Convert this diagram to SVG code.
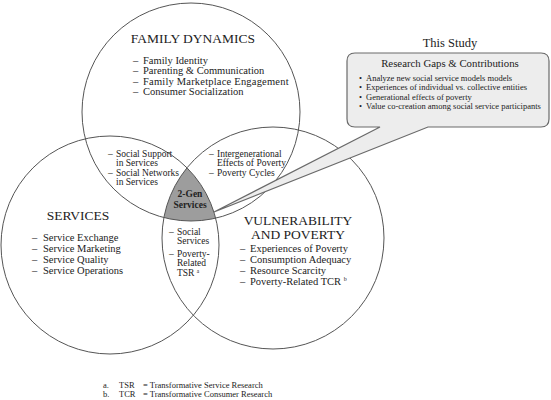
<svg xmlns="http://www.w3.org/2000/svg" width="551" height="400" viewBox="0 0 551 400">
<style>
text{font-family:"Liberation Serif","Times New Roman",serif;fill:#222}
.hd{font-size:13.5px}
.it{font-size:10.5px}
.ln{font-size:9.5px}
.cb{font-size:8.5px}
.fn{font-size:8.5px}
.circ{fill:none;stroke:#555;stroke-width:1}
</style>
<defs>
<clipPath id="clipL"><circle cx="110" cy="245" r="109"/></clipPath>
<clipPath id="clipT"><circle cx="191" cy="112" r="109"/></clipPath>
</defs>
<rect width="551" height="400" fill="#fff"/>

<g id="two-gen">
<g clip-path="url(#clipT)"><circle cx="273" cy="238" r="111" fill="#9d9d9d" clip-path="url(#clipL)"/></g>
<text x="190" y="197" text-anchor="middle" style="font-size:9.5px;font-weight:bold">2-Gen</text>
<text x="190" y="208" text-anchor="middle" style="font-size:9.5px;font-weight:bold">Services</text>
</g>

<g id="family-dynamics">
<circle class="circ" cx="191" cy="112" r="109"/>
<text class="hd" x="193" y="43" text-anchor="middle">FAMILY DYNAMICS</text>
<text class="it" x="133" y="63.5">–</text><text class="it" x="143" y="63.5">Family Identity</text>
<text class="it" x="133" y="74">–</text><text class="it" x="143" y="74">Parenting &amp; Communication</text>
<text class="it" x="133" y="84.5">–</text><text class="it" x="143" y="84.5" style="letter-spacing:0.2px">Family Marketplace Engagement</text>
<text class="it" x="133" y="95">–</text><text class="it" x="143" y="95">Consumer Socialization</text>
</g>

<g id="services">
<circle class="circ" cx="110" cy="245" r="109"/>
<text class="hd" x="78" y="220" text-anchor="middle">SERVICES</text>
<text class="it" x="32" y="241">–</text><text class="it" x="43" y="241">Service Exchange</text>
<text class="it" x="32" y="252">–</text><text class="it" x="43" y="252">Service Marketing</text>
<text class="it" x="32" y="263">–</text><text class="it" x="43" y="263">Service Quality</text>
<text class="it" x="32" y="274">–</text><text class="it" x="43" y="274">Service Operations</text>
</g>

<g id="vulnerability-poverty">
<circle class="circ" cx="273" cy="238" r="111"/>
<text class="hd" x="298" y="225" text-anchor="middle">VULNERABILITY</text>
<text class="hd" x="298" y="239" text-anchor="middle">AND POVERTY</text>
<text class="it" x="240" y="252">–</text><text class="it" x="250" y="252">Experiences of Poverty</text>
<text class="it" x="240" y="263">–</text><text class="it" x="250" y="263">Consumption Adequacy</text>
<text class="it" x="240" y="274">–</text><text class="it" x="250" y="274">Resource Scarcity</text>
<text class="it" x="240" y="285">–</text><text class="it" x="250" y="285">Poverty-Related TCR <tspan style="font-size:6px" dy="-4">b</tspan></text>
</g>

<g id="lens-family-services">
<text class="ln" x="108" y="157">–</text><text class="ln" x="116" y="157">Social Support</text>
<text class="ln" x="116" y="166">in Services</text>
<text class="ln" x="108" y="176">–</text><text class="ln" x="116" y="176">Social Networks</text>
<text class="ln" x="116" y="185">in Services</text>
</g>

<g id="lens-family-poverty">
<text class="ln" x="209" y="157">–</text><text class="ln" x="217" y="157">Intergenerational</text>
<text class="ln" x="217" y="166">Effects of Poverty</text>
<text class="ln" x="209" y="176">–</text><text class="ln" x="217" y="176">Poverty Cycles</text>
</g>

<g id="lens-services-poverty">
<text class="ln" x="169" y="235">–</text><text class="ln" x="177" y="235">Social</text>
<text class="ln" x="177" y="244">Services</text>
<text class="ln" x="169" y="257">–</text><text class="ln" x="177" y="257">Poverty-</text>
<text class="ln" x="177" y="266">Related</text>
<text class="ln" x="177" y="276">TSR <tspan style="font-size:5.5px" dy="-3.5">a</tspan></text>
</g>

<g id="this-study">
<text x="450" y="47" text-anchor="middle" style="font-size:12.5px">This Study</text>
<path d="M355,53 H541 Q549,53 549,61 V119 Q549,127 541,127 H428 L214,212 L380,127 H355 Q347,127 347,119 V61 Q347,53 355,53 Z" fill="#ededed" stroke="#6a6a6a" stroke-width="1.2"/>
<text x="450" y="67" text-anchor="middle" style="font-size:10.8px">Research Gaps &amp; Contributions</text>
<text class="cb" x="359" y="80.5">•</text><text class="cb" x="366" y="80.5">Analyze new social service models models</text>
<text class="cb" x="359" y="90">•</text><text class="cb" x="366" y="90">Experiences of individual vs. collective entities</text>
<text class="cb" x="359" y="99.5">•</text><text class="cb" x="366" y="99.5">Generational effects of poverty</text>
<text class="cb" x="359" y="109">•</text><text class="cb" x="366" y="109">Value co-creation among social service participants</text>
</g>

<g id="connectors"></g>

<g id="footnotes">
<text class="fn" x="103" y="388">a.</text><text class="fn" x="119" y="388">TSR</text><text class="fn" x="143" y="388">= Transformative Service Research</text>
<text class="fn" x="103" y="397">b.</text><text class="fn" x="119" y="397">TCR</text><text class="fn" x="143" y="397">= Transformative Consumer Research</text>
</g>
</svg>
